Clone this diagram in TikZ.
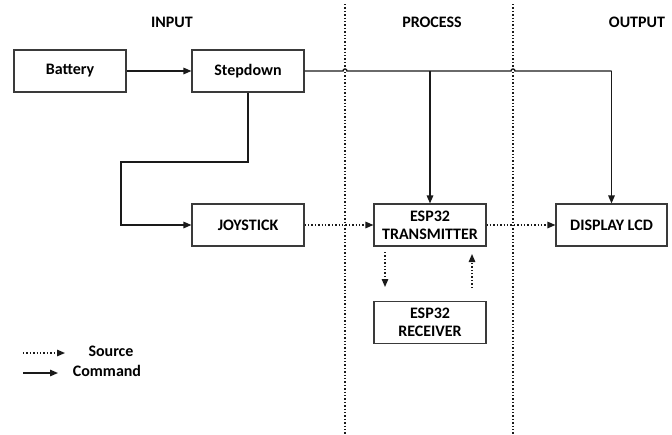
\documentclass[tikz,border=0pt]{standalone}
\usepackage{fontspec}
\setmainfont{Carlito}
\usetikzlibrary{arrows.meta}
\definecolor{ln}{HTML}{1A1A1A}
\definecolor{bx}{HTML}{3A3A3A}
\tikzset{
  blk/.style={draw=bx,line width=1.1pt,minimum width=112pt,minimum height=42pt,inner sep=0pt,align=center,font=\fontsize{16}{18}\selectfont\bfseries,fill=white},
  hdr/.style={font=\fontsize{16}{17}\selectfont\bfseries},
  cmd/.style={draw=ln,line width=1.4pt,-{Triangle[length=8pt,width=6.5pt]}},
  src/.style={draw=ln,line width=1.4pt,dotted,-{Triangle[length=8pt,width=6.5pt]}},
  cmdl/.style={draw=ln,line width=1.4pt},
  sep/.style={draw=ln,line width=1.4pt,dotted}
}
\begin{document}
\begin{tikzpicture}[x=1pt,y=-1pt]
\useasboundingbox (0,0) rectangle (672,434);
% column separators
\coordinate (s1t) at (345,4); \coordinate (s1b) at (345,434);
\coordinate (s2t) at (513,4); \coordinate (s2b) at (513,434);
\draw[sep] (s1t) -- (s1b);
\draw[sep] (s2t) -- (s2b);
% headers
\node[hdr] (hin) at (172,22) {INPUT};
\node[hdr] (hpr) at (432,22) {PROCESS};
\node[hdr] (hout) at (637,22) {OUTPUT};
% blocks
\node[blk] (bat) at (70,71) {Battery};
\node[blk] (step) at (248,71) {Stepdown};
\node[blk] (joy) at (248,225) {JOYSTICK};
\node[blk] (tx) at (430,225) {ESP32\\TRANSMITTER};
\node[blk,minimum width=111pt] (disp) at (611.5,225) {DISPLAY LCD};
\node[blk] (rx) at (430,322.5) {ESP32\\RECEIVER};
% command connectors
\draw[cmd] (bat.east) -- (step.west);
\coordinate (k1) at (121,162);
\draw[cmd] (step.south) |- (k1) |- (joy.west);
\coordinate (h1) at (343,71);
\coordinate (h2) at (511,71);
\coordinate (jt) at (tx.north |- step.east);
\coordinate (jd) at (disp.north |- step.east);
\draw[cmdl] (step.east) -- (h1) arc[start angle=180,end angle=360,radius=2] -- (h2) arc[start angle=180,end angle=360,radius=2] -- (jd);
\draw[cmd] (jd) -- (disp.north);
\draw[cmd] (jt) -- (tx.north);
% source connectors
\draw[src] (joy.east) -- (tx.west);
\draw[src] (tx.east) -- (disp.west);
\coordinate (d1) at (385,252); \coordinate (d2) at (385,287);
\draw[src] (d1) -- (d2);
\coordinate (u1) at (472,288); \coordinate (u2) at (472,254);
\draw[src] (u1) -- (u2);
% legend
\coordinate (l1) at (23,353); \coordinate (l2) at (65,353);
\draw[src] (l1) -- (l2);
\node[hdr] (lsrc) at (111,351) {Source};
\coordinate (l3) at (23,373); \coordinate (l4) at (58,373);
\draw[cmd] (l3) -- (l4);
\node[hdr] (lcmd) at (107,371) {Command};
\end{tikzpicture}
\end{document}
